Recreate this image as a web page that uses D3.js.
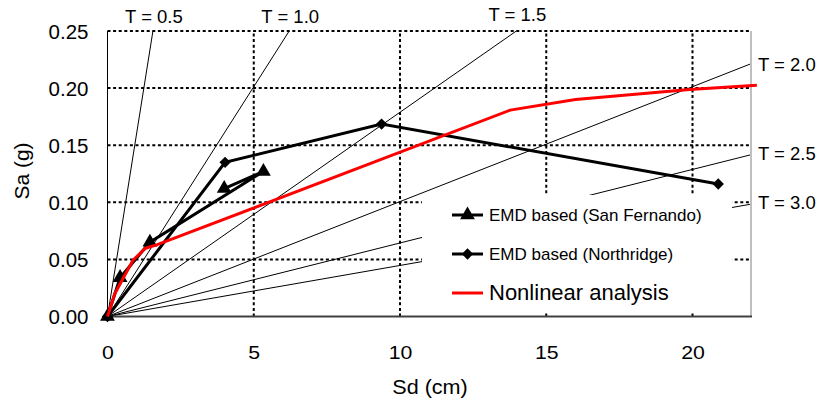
<!DOCTYPE html>
<html>
<head>
<meta charset="utf-8">
<script src="https://cdn.jsdelivr.net/npm/d3@7/dist/d3.min.js"></script>
<style>
html,body{margin:0;padding:0;background:#fff;}
svg{display:block;}
text{font-family:"Liberation Sans",Arial,sans-serif;fill:#000;}
</style>
</head>
<body>
<svg id="chart" width="820" height="404"></svg>
<script>
// ---- data ----
const xTicks = [0, 5, 10, 15, 20];
const yTicks = [0.00, 0.05, 0.10, 0.15, 0.20, 0.25];
const periods = [0.5, 1.0, 1.5, 2.0, 2.5, 3.0];
const periodLabels = ["T = 0.5", "T = 1.0", "T = 1.5", "T = 2.0", "T = 2.5", "T = 3.0"];

const sfSd = [0, 0.43, 1.45, 5.33, 3.99];
const sfSa = [0, 0.034, 0.065, 0.127, 0.112];

const nrSd = [0, 4.02, 9.37, 20.88];
const nrSa = [0, 0.135, 0.1685, 0.116];

const nlSd = [0, 0.25, 0.6, 0.88, 1.3, 1.68, 13.77, 16.0, 19.9, 22.2];
const nlSa = [0, 0.02, 0.0365, 0.0495, 0.0598, 0.0627, 0.1807, 0.19, 0.1988, 0.2025];

const seriesNames = ["EMD based (San Fernando)", "EMD based (Northridge)", "Nonlinear analysis"];

// ---- layout ----
const svg = d3.select("#chart");
const xMax = 22, yMax = 0.25;
const x = d3.scaleLinear().domain([0, xMax]).range([107.5, 751]);
const y = d3.scaleLinear().domain([0, yMax]).range([316.5, 31]);
const g = 981; // cm/s^2

// gridlines
const grid = svg.append("g");
grid.selectAll("line.h").data(yTicks.filter(d => d > 0)).join("line")
  .attr("x1", x(0)).attr("x2", x(xMax))
  .attr("y1", d => y(d)).attr("y2", d => y(d))
  .attr("stroke", "#000").attr("stroke-width", 2).attr("stroke-dasharray", "3,2.6");
grid.selectAll("line.v").data(xTicks.filter(d => d > 0)).join("line")
  .attr("x1", d => x(d)).attr("x2", d => x(d))
  .attr("y1", y(0)).attr("y2", y(yMax))
  .attr("stroke", "#000").attr("stroke-width", 2).attr("stroke-dasharray", "3,2.6");

// constant period lines: Sa = (2π/T)^2 Sd / g
function periodEnd(T) {
  const k = Math.pow(2 * Math.PI / T, 2) / g; // Sa (g) per cm
  const sdTop = yMax / k;
  if (sdTop <= xMax) return {sd: sdTop, sa: yMax, top: true};
  return {sd: xMax, sa: k * xMax, top: false};
}
const pl = svg.append("g");
periods.forEach((T, i) => {
  const e = periodEnd(T);
  pl.append("line")
    .attr("x1", x(0)).attr("y1", y(0))
    .attr("x2", x(e.sd)).attr("y2", y(e.sa))
    .attr("stroke", "#000").attr("stroke-width", 1);
  const t = pl.append("text").text(periodLabels[i]).style("font-size", "18.5px");
  if (e.top) {
    t.attr("x", x(e.sd) + 1).attr("y", i === 2 ? 20.5 : 22.5).attr("text-anchor", "middle");
  } else {
    t.attr("x", x(e.sd) + 7).attr("y", y(e.sa) + 5 + (i === 3 ? 2 : 0)).attr("text-anchor", "start");
  }
});

// legend background (covers lines underneath)
const legend = svg.append("g");
legend.append("rect").attr("x", 422).attr("y", 195).attr("width", 310).attr("height", 117).attr("fill", "#fff");

// axes lines
svg.append("line").attr("x1", x(0)).attr("x2", x(0)).attr("y1", y(0)).attr("y2", y(yMax))
  .attr("stroke", "#000").attr("stroke-width", 1);
svg.append("line").attr("x1", x(xMax)).attr("x2", x(xMax)).attr("y1", y(0)).attr("y2", y(yMax))
  .attr("stroke", "#bfbfbf").attr("stroke-width", 2);
svg.append("line").attr("x1", x(0)).attr("x2", x(xMax) + 1).attr("y1", y(0)).attr("y2", y(0))
  .attr("stroke", "#404040").attr("stroke-width", 1.8);

// tick labels via d3 axes
const ax = svg.append("g").attr("transform", `translate(0,${y(0)})`)
  .call(d3.axisBottom(x).tickValues(xTicks).tickSize(0).tickPadding(0).tickFormat(d3.format("d")));
ax.select(".domain").remove();
ax.selectAll("text").attr("y", 0).attr("dy", 0)
  .style("font-size", "18.5px").style("font-family", "'Liberation Sans', Arial, sans-serif")
  .attr("fill", "#000").attr("transform", "translate(0,42) scale(1.15,1)");

const ay = svg.append("g").attr("transform", `translate(${x(0)},0)`)
  .call(d3.axisLeft(y).tickValues(yTicks).tickSize(0).tickPadding(19).tickFormat(d3.format(".2f")));
ay.select(".domain").remove();
ay.selectAll("text").style("font-size", "20.5px").style("font-family", "'Liberation Sans', Arial, sans-serif")
  .attr("fill", "#000").attr("dy", "0.36em");

// axis titles
svg.append("text").text("Sd (cm)").attr("x", 0).attr("y", 0)
  .attr("text-anchor", "middle").style("font-size", "20px")
  .attr("transform", "translate(430,394) scale(1.08,1)");
svg.append("text").text("Sa (g)").attr("transform", "translate(29,171) rotate(-90)")
  .attr("text-anchor", "middle").style("font-size", "21px");

// series
const line = d3.line().x(d => x(d[0])).y(d => y(d[1]));
const sf = sfSd.map((d, i) => [d, sfSa[i]]);
const nr = nrSd.map((d, i) => [d, nrSa[i]]);
const nl = nlSd.map((d, i) => [d, nlSa[i]]);

const tri = d3.symbol().type(d3.symbolTriangle).size(95);
const dia = d3.symbol().type(d3.symbolSquare).size(64);

svg.append("path").datum(nr).attr("d", line).attr("fill", "none").attr("stroke", "#000").attr("stroke-width", 3);
svg.selectAll("path.nr").data(nr).join("path").attr("class", "nr")
  .attr("d", dia).attr("transform", d => `translate(${x(d[0])},${y(d[1])}) rotate(45)`).attr("fill", "#000");

svg.append("path").datum(sf).attr("d", line).attr("fill", "none").attr("stroke", "#000").attr("stroke-width", 3);
svg.selectAll("path.sf").data(sf).join("path").attr("class", "sf")
  .attr("d", tri).attr("transform", d => `translate(${x(d[0])},${y(d[1])})`).attr("fill", "#000");

svg.append("path").datum(nl).attr("d", line).attr("fill", "none").attr("stroke", "#ff0000").attr("stroke-width", 3);

// legend entries
const rows = [221, 260, 300];
const ly = [215, 254, 293];
legend.append("line").attr("x1", 452).attr("x2", 483).attr("y1", ly[0]).attr("y2", ly[0]).attr("stroke", "#000").attr("stroke-width", 3);
legend.append("path").attr("d", tri).attr("transform", `translate(467.5,${ly[0]})`).attr("fill", "#000");
legend.append("line").attr("x1", 452).attr("x2", 483).attr("y1", ly[1]).attr("y2", ly[1]).attr("stroke", "#000").attr("stroke-width", 3);
legend.append("path").attr("d", dia).attr("transform", `translate(467.5,${ly[1]}) rotate(45)`).attr("fill", "#000");
legend.append("line").attr("x1", 452).attr("x2", 483).attr("y1", ly[2]).attr("y2", ly[2]).attr("stroke", "#ff0000").attr("stroke-width", 3);
legend.append("text").text(seriesNames[0]).attr("x", 489).attr("y", rows[0]).style("font-size", "17px");
legend.append("text").text(seriesNames[1]).attr("x", 489).attr("y", rows[1]).style("font-size", "17px");
legend.append("text").text(seriesNames[2]).attr("x", 489).attr("y", rows[2]).style("font-size", "22px");
</script>
</body>
</html>
